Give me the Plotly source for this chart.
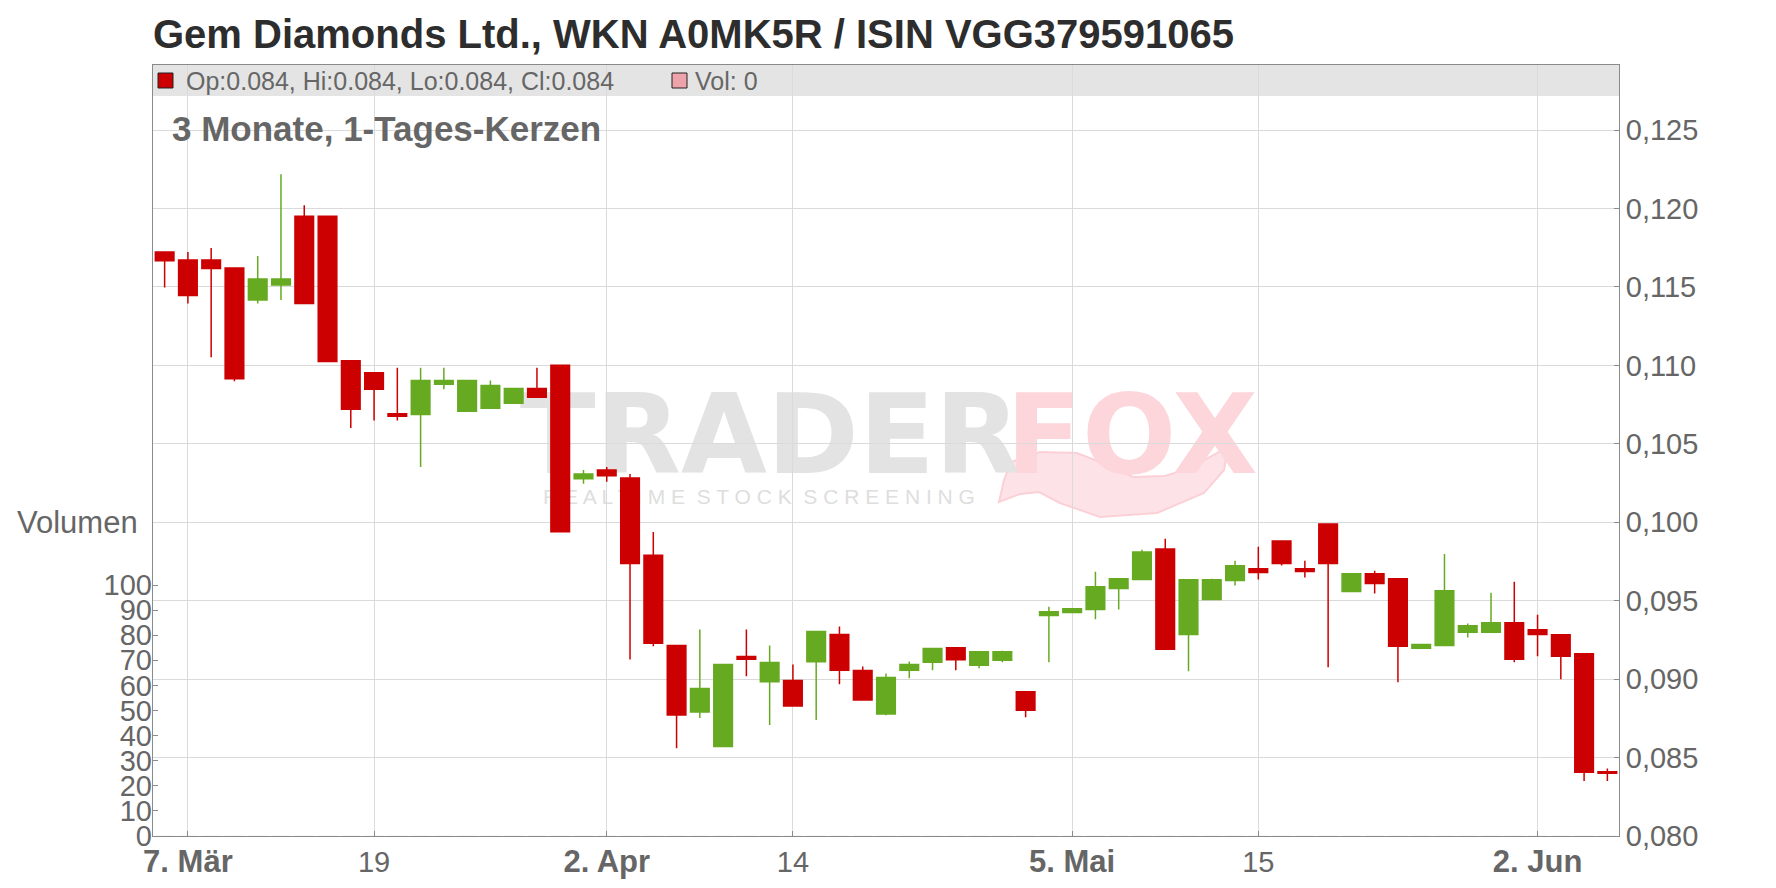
import plotly.graph_objects as go

# ---------------- data ----------------
dates = [
    "2025-03-06", "2025-03-07", "2025-03-10", "2025-03-11", "2025-03-12", "2025-03-13", "2025-03-14",
    "2025-03-17", "2025-03-18", "2025-03-19", "2025-03-20", "2025-03-21", "2025-03-24", "2025-03-25",
    "2025-03-26", "2025-03-27", "2025-03-28", "2025-03-31", "2025-04-01", "2025-04-02", "2025-04-03",
    "2025-04-04", "2025-04-07", "2025-04-08", "2025-04-09", "2025-04-10", "2025-04-11", "2025-04-14",
    "2025-04-15", "2025-04-16", "2025-04-17", "2025-04-22", "2025-04-23", "2025-04-24", "2025-04-25",
    "2025-04-28", "2025-04-29", "2025-04-30", "2025-05-02", "2025-05-05", "2025-05-06", "2025-05-07",
    "2025-05-08", "2025-05-09", "2025-05-12", "2025-05-13", "2025-05-14", "2025-05-15", "2025-05-16",
    "2025-05-19", "2025-05-20", "2025-05-21", "2025-05-22", "2025-05-23", "2025-05-26", "2025-05-27",
    "2025-05-28", "2025-05-29", "2025-05-30", "2025-06-02", "2025-06-03", "2025-06-04", "2025-06-05",
]

opens = [
    0.11722, 0.11672, 0.11672, 0.11621, 0.11417, 0.11513, 0.11951,
    0.11951, 0.11030, 0.10953, 0.10691, 0.10686, 0.10879, 0.10708,
    0.10727, 0.10758, 0.10852, 0.11000, 0.10278, 0.10333, 0.10282,
    0.09790, 0.09214, 0.08790, 0.08570, 0.09144, 0.08983, 0.08992,
    0.09110, 0.09284, 0.09055, 0.08777, 0.09057, 0.09108, 0.09200,
    0.09088, 0.09120, 0.08920, 0.09406, 0.09425, 0.09444, 0.09578,
    0.09635, 0.09830, 0.09285, 0.09508, 0.09629, 0.09703, 0.09881,
    0.09703, 0.09989, 0.09559, 0.09671, 0.09640, 0.09196, 0.09215,
    0.09298, 0.09298, 0.09359, 0.09315, 0.09283, 0.09162, 0.08410,
]

highs = [
    0.11722, 0.11722, 0.11748, 0.11621, 0.11697, 0.12218, 0.12021,
    0.11951, 0.11030, 0.10953, 0.10985, 0.10985, 0.10985, 0.10903,
    0.10903, 0.10852, 0.10985, 0.11000, 0.10333, 0.10352, 0.10307,
    0.09938, 0.09214, 0.09316, 0.09093, 0.09316, 0.09214, 0.09093,
    0.09303, 0.09335, 0.09080, 0.09036, 0.09112, 0.09195, 0.09200,
    0.09175, 0.09181, 0.08920, 0.09461, 0.09448, 0.09684, 0.09639,
    0.09824, 0.09894, 0.09633, 0.09640, 0.09754, 0.09843, 0.09881,
    0.09754, 0.09989, 0.09671, 0.09690, 0.09640, 0.09220, 0.09798,
    0.09355, 0.09550, 0.09620, 0.09410, 0.09283, 0.09162, 0.08430,
]

lows = [
    0.11496, 0.11394, 0.11051, 0.10898, 0.11394, 0.11417, 0.11394,
    0.11025, 0.10600, 0.10648, 0.10648, 0.10352, 0.10847, 0.10708,
    0.10727, 0.10758, 0.10797, 0.09940, 0.10246, 0.10258, 0.09125,
    0.09210, 0.08560, 0.08752, 0.08570, 0.09019, 0.08708, 0.08828,
    0.08740, 0.08968, 0.08867, 0.08770, 0.09006, 0.09056, 0.09056,
    0.09069, 0.09107, 0.08757, 0.09107, 0.09425, 0.09381, 0.09444,
    0.09635, 0.09190, 0.09050, 0.09508, 0.09597, 0.09635, 0.09724,
    0.09648, 0.09075, 0.09559, 0.09546, 0.08980, 0.09196, 0.09215,
    0.09266, 0.09298, 0.09107, 0.09145, 0.08999, 0.08350, 0.08350,
]

closes = [
    0.11667, 0.11445, 0.11617, 0.10915, 0.11551, 0.11551, 0.11394,
    0.11025, 0.10720, 0.10847, 0.10676, 0.10903, 0.10903, 0.10903,
    0.10871, 0.10852, 0.10797, 0.09940, 0.10307, 0.10297, 0.09737,
    0.09229, 0.08771, 0.08941, 0.09093, 0.09127, 0.09106, 0.08828,
    0.09303, 0.09057, 0.08867, 0.09010, 0.09093, 0.09195, 0.09124,
    0.09175, 0.09175, 0.08801, 0.09429, 0.09448, 0.09588, 0.09639,
    0.09811, 0.09190, 0.09633, 0.09633, 0.09722, 0.09680, 0.09737,
    0.09686, 0.09737, 0.09671, 0.09610, 0.09209, 0.09220, 0.09563,
    0.09340, 0.09359, 0.09126, 0.09285, 0.09145, 0.08407, 0.08400,
]

volumes = [
    0, 0, 0, 0, 0, 0, 0, 0, 0, 0, 0, 0, 0, 0, 0, 0, 0, 0, 0, 0, 0,
    0, 0, 0, 0, 0, 0, 0, 0, 0, 0, 0, 0, 0, 0, 0, 0, 0, 0, 0, 0, 0,
    0, 0, 0, 0, 0, 0, 0, 0, 0, 0, 0, 0, 0, 0, 0, 0, 0, 0, 0, 0, 0,
]

x_tick_dates = ["2025-03-07", "2025-03-19", "2025-04-02", "2025-04-14", "2025-05-05", "2025-05-15", "2025-06-02"]
x_tick_labels = ["7. Mär", "19", "2. Apr", "14", "5. Mai", "15", "2. Jun"]
x_tick_bold = [True, False, True, False, True, False, True]
price_ticks = [0.080, 0.085, 0.090, 0.095, 0.100, 0.105, 0.110, 0.115, 0.120, 0.125]
volume_ticks = [0, 10, 20, 30, 40, 50, 60, 70, 80, 90, 100]

title_text = "Gem Diamonds Ltd., WKN A0MK5R / ISIN VGG379591065"
subtitle_text = "3 Monate, 1-Tages-Kerzen"
ohlc_text = "Op:0.084, Hi:0.084, Lo:0.084, Cl:0.084"
vol_text = "Vol: 0"

# ---------------- layout geometry (page pixels) ----------------
OFF = 8                      # default body margin of the page
W, H = 1776 - 2 * OFF, 888 - 2 * OFF
PL, PR, PT, PB = 153, 1619, 65, 836   # plot area on the page
L, R, T, B = PL - OFF, OFF + W - PR, PT - OFF, OFF + H - PB
PW, PH = PR - PL, PB - PT
PX_PER_STEP = 78.44          # pixels per 0.005 on the price axis
VOL_PX_PER_UNIT = 2.51


def px(xp):
    return (xp - PL) / PW


def py(yp):
    return (PB - yp) / PH


FONT = "Liberation Sans, Arial, sans-serif"
WM_FONT = "DejaVu Sans, Liberation Sans, sans-serif"
GREEN = "#66aa22"
RED = "#cc0000"
GREY_TXT = "#666666"

tick_text = [
    ("<span style='font-size:31px'><b>%s</b></span>" % t) if b else t
    for t, b in zip(x_tick_labels, x_tick_bold)
]

# watermark fox-tail swoosh outline (page pixels, decorative)
swoosh_pts = [(999, 502), (1004, 480), (1011, 462), (1040, 452), (1077, 453), (1105, 464),
              (1133, 477), (1165, 476), (1190, 468), (1228, 447), (1224, 470), (1204, 493),
              (1157, 513), (1100, 517), (1060, 503), (1039, 492), (1020, 494)]
swoosh_path = "M " + " L ".join("%.5f,%.5f" % (px(a), py(b)) for a, b in swoosh_pts) + " Z"

fig = go.Figure()

fig.add_trace(go.Bar(
    x=dates, y=volumes, yaxis="y2", marker_color="#eea3aa",
    showlegend=False, hoverinfo="skip",
))

fig.add_trace(go.Candlestick(
    x=dates, open=opens, high=highs, low=lows, close=closes,
    increasing=dict(line=dict(color=GREEN, width=1.5), fillcolor=GREEN),
    decreasing=dict(line=dict(color=RED, width=1.5), fillcolor=RED),
    whiskerwidth=0, showlegend=False,
))

shapes = [
    # legend band
    dict(type="rect", xref="paper", yref="paper", x0=0, x1=1, y0=py(96), y1=1,
         fillcolor="#e4e4e4", line=dict(width=0), layer="below"),
    # legend swatches
    dict(type="rect", xref="paper", yref="paper", x0=px(158), x1=px(173), y0=py(88), y1=py(73),
         fillcolor=RED, line=dict(color="#222222", width=1), layer="above"),
    dict(type="rect", xref="paper", yref="paper", x0=px(672), x1=px(687), y0=py(88), y1=py(73),
         fillcolor="#eea3aa", line=dict(color="#222222", width=1), layer="above"),
    # watermark
    dict(type="path", xref="paper", yref="paper", path=swoosh_path,
         fillcolor="#fde3e7", line=dict(color="#fbd0d6", width=2), layer="below"),
    dict(type="rect", xref="paper", yref="paper", x0=px(570), x1=px(970), y0=py(476), y1=py(376),
         fillcolor="rgba(0,0,0,0)", line=dict(width=0), layer="below",
         label=dict(text="<b>TRADER</b>", font=dict(family=WM_FONT, size=111, color="#e3e3e3"),
                    textposition="middle center")),
    dict(type="rect", xref="paper", yref="paper", x0=px(1032), x1=px(1232), y0=py(476), y1=py(376),
         fillcolor="rgba(0,0,0,0)", line=dict(width=0), layer="below",
         label=dict(text="<b>FOX</b>", font=dict(family=WM_FONT, size=111, color="#fdd6dc"),
                    textposition="middle center")),
    dict(type="rect", xref="paper", yref="paper", x0=px(559), x1=px(959), y0=py(510), y1=py(478),
         fillcolor="rgba(0,0,0,0)", line=dict(width=0), layer="below",
         label=dict(text="R E A L T I M E  S T O C K  S C R E E N I N G",
                    font=dict(family=FONT, size=21, color="#dedede"),
                    textposition="middle center")),
]

annotations = [
    dict(text=subtitle_text, xref="paper", yref="paper", x=px(170), y=py(128),
         xanchor="left", yanchor="middle", showarrow=False,
         font=dict(family=FONT, size=35, color=GREY_TXT, weight="bold")),
    dict(text=ohlc_text, xref="paper", yref="paper", x=px(184), y=py(81),
         xanchor="left", yanchor="middle", showarrow=False,
         font=dict(family=FONT, size=25, color=GREY_TXT)),
    dict(text=vol_text, xref="paper", yref="paper", x=px(693), y=py(81),
         xanchor="left", yanchor="middle", showarrow=False,
         font=dict(family=FONT, size=25, color=GREY_TXT)),
    dict(text="Volumen", xref="paper", yref="paper", x=px(140), y=py(522),
         xanchor="right", yanchor="middle", showarrow=False,
         font=dict(family=FONT, size=31, color=GREY_TXT)),
]

fig.update_layout(
    width=W, height=H,
    margin=dict(l=L, r=R, t=T, b=B, pad=0, autoexpand=False),
    paper_bgcolor="white", plot_bgcolor="white",
    separators=",.",
    boxgap=0.2, boxgroupgap=0,
    showlegend=False,
    title=dict(text=title_text, x=(PL - OFF) / W, xanchor="left", xref="container",
               y=1 - (34 - OFF) / H, yanchor="middle", yref="container", automargin=False,
               font=dict(family=FONT, size=40, color="#2d2d2d", weight="bold")),
    xaxis=dict(
        type="category", range=[-0.5, len(dates) - 0.5], rangeslider=dict(visible=False),
        automargin=False,
        tickmode="array", tickvals=x_tick_dates, ticktext=tick_text,
        showgrid=True, gridcolor="#dadada", gridwidth=1,
        showline=True, linecolor="#8a8a8a", linewidth=1, mirror=True,
        ticks="inside", ticklen=5, tickcolor="#8a8a8a",
        tickfont=dict(family=FONT, size=29, color=GREY_TXT),
        zeroline=False,
    ),
    yaxis=dict(
        side="right", range=[0.080, 0.080 + PH / PX_PER_STEP * 0.005],
        automargin=False,
        tickmode="array", tickvals=price_ticks, tickformat=".3f",
        showgrid=True, gridcolor="#dadada", gridwidth=1,
        showline=True, linecolor="#8a8a8a", linewidth=1, mirror=True,
        ticks="inside", ticklen=5, tickcolor="#8a8a8a",
        tickfont=dict(family=FONT, size=29, color=GREY_TXT),
        zeroline=False,
    ),
    yaxis2=dict(
        overlaying="y", side="left", range=[0, PH / VOL_PX_PER_UNIT],
        automargin=False,
        tickmode="array", tickvals=volume_ticks,
        showgrid=False, showline=False, zeroline=False,
        ticks="inside", ticklen=5, tickcolor="#8a8a8a",
        tickfont=dict(family=FONT, size=29, color=GREY_TXT),
    ),
    shapes=shapes,
    annotations=annotations,
)

fig.write_html("out.html")
